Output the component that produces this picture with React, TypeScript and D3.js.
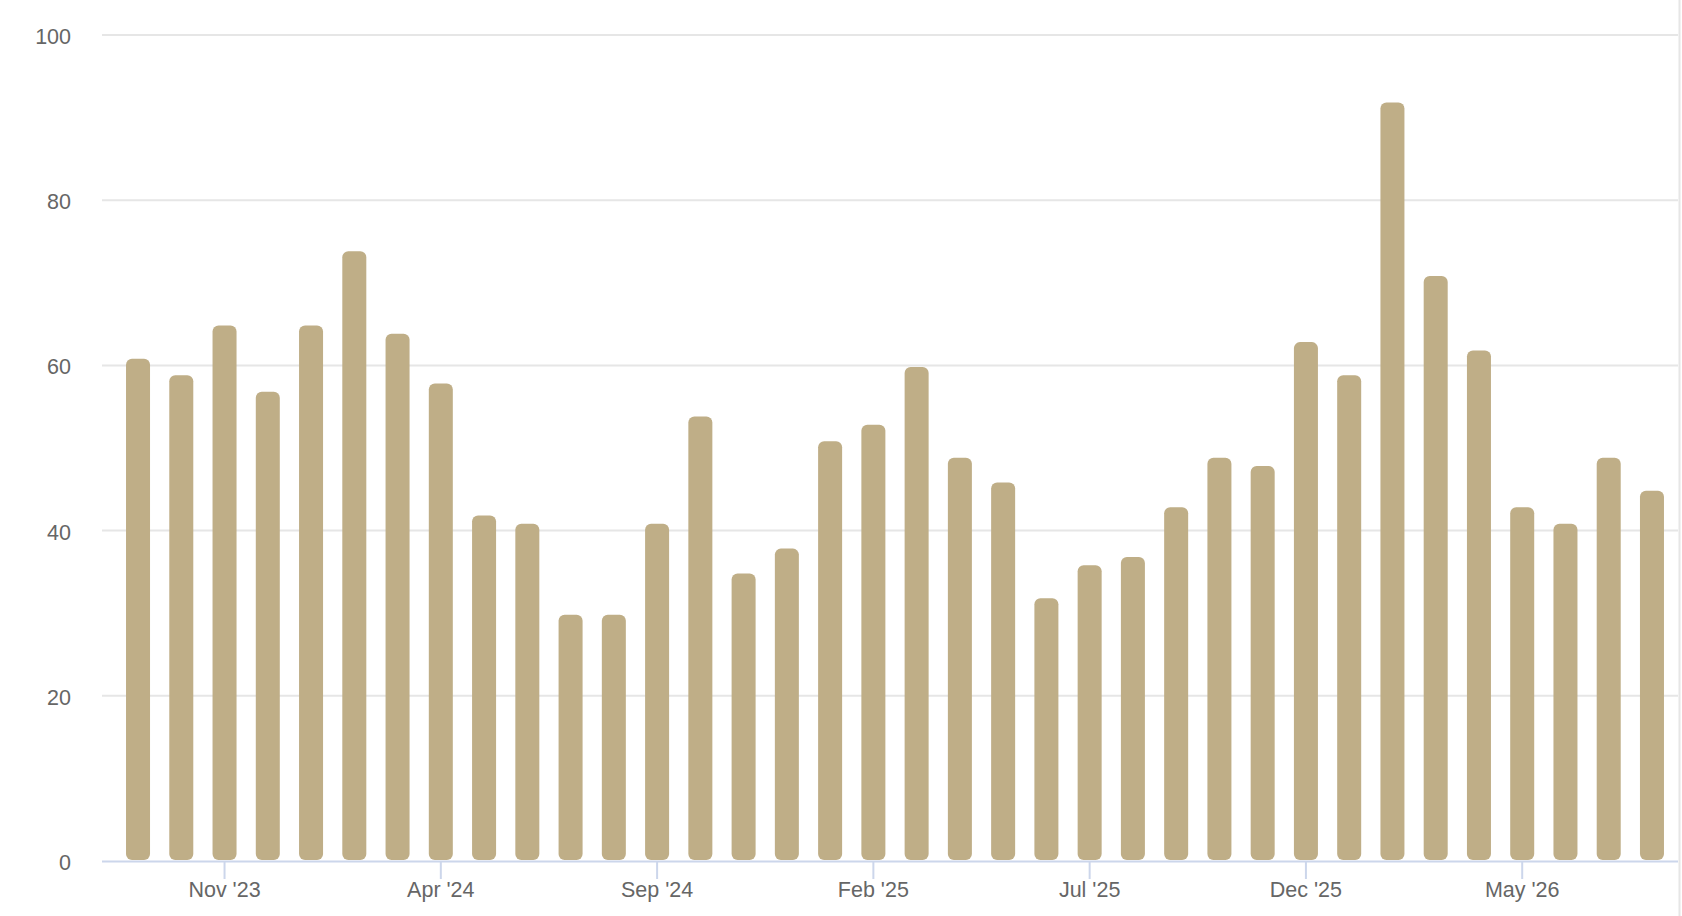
import React, { useEffect, useRef } from 'react';
import * as d3 from 'd3';

// monthly counts, Sep '23 .. Aug '26
const months = [
  "Sep '23", "Oct '23", "Nov '23", "Dec '23", "Jan '24", "Feb '24", "Mar '24", "Apr '24", "May '24",
  "Jun '24", "Jul '24", "Aug '24", "Sep '24", "Oct '24", "Nov '24", "Dec '24", "Jan '25", "Feb '25",
  "Mar '25", "Apr '25", "May '25", "Jun '25", "Jul '25", "Aug '25", "Sep '25", "Oct '25", "Nov '25",
  "Dec '25", "Jan '26", "Feb '26", "Mar '26", "Apr '26", "May '26", "Jun '26", "Jul '26", "Aug '26",
];
const values = [
  61, 59, 65, 57, 65, 74, 64, 58, 42,
  41, 30, 30, 41, 54, 35, 38, 51, 53,
  60, 49, 46, 32, 36, 37, 43, 49, 48,
  63, 59, 92, 71, 62, 43, 41, 49, 45,
];
const xTickLabels = ["Nov '23", "Apr '24", "Sep '24", "Feb '25", "Jul '25", "Dec '25", "May '26"];
const yTicks = [0, 20, 40, 60, 80, 100];

const App: React.FC = () => {
  const svgRef = useRef<SVGSVGElement>(null);

  useEffect(() => {
    if (!svgRef.current) return;

    const width = 1682;
    const height = 916;
    const plotLeft = 102;
    const plotRight = 1678;
    const font = '"Liberation Sans", Arial, Helvetica, sans-serif';

    const svg = d3.select(svgRef.current)
      .attr('width', width)
      .attr('height', height)
      .attr('viewBox', `0 0 ${width} ${height}`)
      .html('');

    svg.append('rect').attr('width', width).attr('height', height).attr('fill', '#ffffff');

    const x = d3.scaleBand<string>()
      .domain(months)
      .range([116.4, 1673.6])
      .paddingInner(0.445)
      .paddingOuter(0.2225);

    const y = d3.scaleLinear().domain([0, 100]).range([861, 35]);

    // gridlines
    svg.append('g')
      .selectAll('line')
      .data(yTicks.filter(d => d > 0))
      .join('line')
      .attr('x1', plotLeft)
      .attr('x2', plotRight)
      .attr('y1', d => y(d))
      .attr('y2', d => y(d))
      .attr('stroke', '#e6e6e6')
      .attr('stroke-width', 2);

    // y labels
    svg.append('g')
      .selectAll('text')
      .data(yTicks)
      .join('text')
      .attr('x', 71)
      .attr('y', d => y(d) + 9)
      .attr('text-anchor', 'end')
      .attr('fill', '#666666')
      .attr('font-family', font)
      .attr('font-size', 21.5)
      .text(d => d);

    // bars (1.5px inset at the top, like the white column border)
    const bw = x.bandwidth();
    svg.append('g')
      .selectAll('rect')
      .data(values)
      .join('rect')
      .attr('x', (_, i) => x(months[i])!)
      .attr('y', d => y(d) + 1.5)
      .attr('width', bw)
      .attr('height', d => y(0) - 2.5 - y(d))
      .attr('rx', 6)
      .attr('ry', 6)
      .attr('fill', '#bfae87');

    // x axis line
    svg.append('line')
      .attr('x1', plotLeft)
      .attr('x2', plotRight)
      .attr('y1', y(0) + 0.5)
      .attr('y2', y(0) + 0.5)
      .attr('stroke', '#ccd6eb')
      .attr('stroke-width', 2);

    const cx = (m: string) => x(m)! + bw / 2;

    svg.append('g')
      .selectAll('line')
      .data(xTickLabels)
      .join('line')
      .attr('x1', d => cx(d))
      .attr('x2', d => cx(d))
      .attr('y1', y(0))
      .attr('y2', y(0) + 18)
      .attr('stroke', '#ccd6eb')
      .attr('stroke-width', 2);

    svg.append('g')
      .selectAll('text')
      .data(xTickLabels)
      .join('text')
      .attr('x', d => cx(d))
      .attr('y', 897)
      .attr('text-anchor', 'middle')
      .attr('fill', '#666666')
      .attr('font-family', font)
      .attr('font-size', 21.5)
      .text(d => d);

    // right border strip
    svg.append('line')
      .attr('x1', 1679.5)
      .attr('x2', 1679.5)
      .attr('y1', 0)
      .attr('y2', height)
      .attr('stroke', '#e6e6e6')
      .attr('stroke-width', 2);
  }, []);

  return <svg ref={svgRef} style={{ position: 'absolute', left: 0, top: 0, display: 'block' }} />;
};

export default App;
